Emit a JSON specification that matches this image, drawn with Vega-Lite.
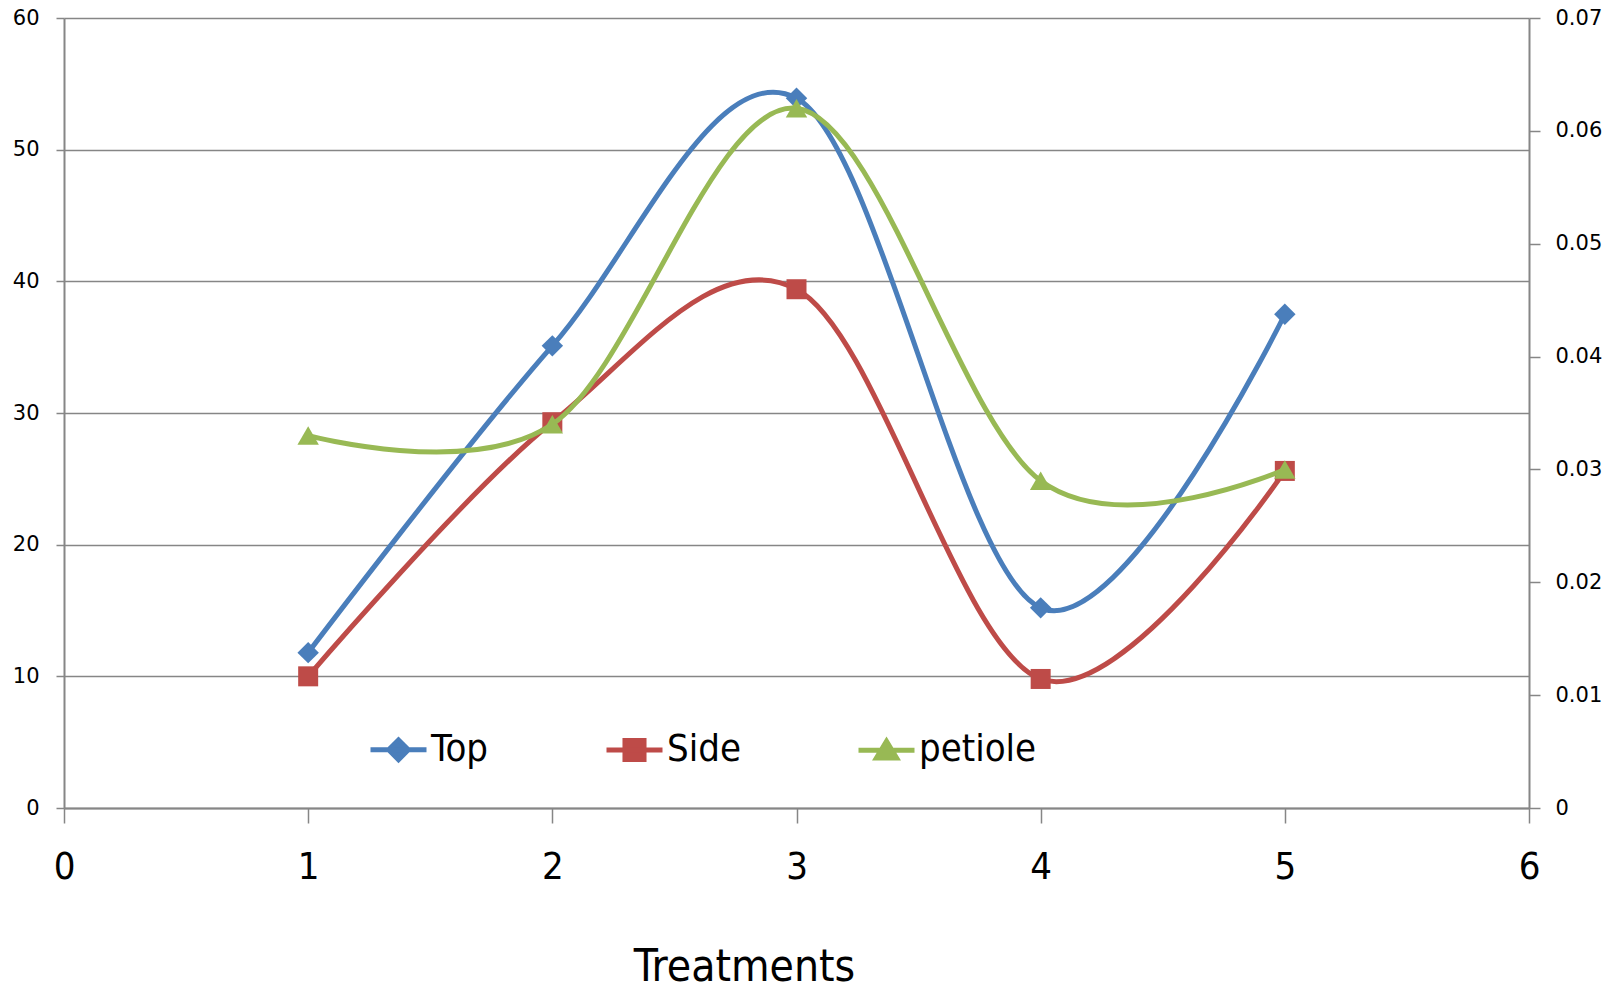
{
  "$schema": "https://vega.github.io/schema/vega-lite/v6.json",
  "width": 1465,
  "height": 790,
  "autosize": "none",
  "padding": {"left": 64, "top": 18, "right": 90, "bottom": 183},
  "background": "white",
  "config": {
    "view": {"stroke": null},
    "axis": {
      "domainColor": "#868686",
      "tickColor": "#868686",
      "gridColor": "#868686",
      "domainWidth": 2,
      "tickWidth": 1.5,
      "gridWidth": 1.5,
      "gridOpacity": 1,
      "labelColor": "black",
      "titleColor": "black"
    }
  },
  "data": {
    "values": [
      {"treatment": 1, "series": "Top", "value": 11.8},
      {"treatment": 2, "series": "Top", "value": 35.1},
      {"treatment": 3, "series": "Top", "value": 53.9},
      {"treatment": 4, "series": "Top", "value": 15.2},
      {"treatment": 5, "series": "Top", "value": 37.5},
      {"treatment": 1, "series": "Side", "value": 10.0},
      {"treatment": 2, "series": "Side", "value": 29.3},
      {"treatment": 3, "series": "Side", "value": 39.4},
      {"treatment": 4, "series": "Side", "value": 9.8},
      {"treatment": 5, "series": "Side", "value": 25.6},
      {"treatment": 1, "series": "petiole", "value": 0.033},
      {"treatment": 2, "series": "petiole", "value": 0.034},
      {"treatment": 3, "series": "petiole", "value": 0.062},
      {"treatment": 4, "series": "petiole", "value": 0.029},
      {"treatment": 5, "series": "petiole", "value": 0.030}
    ]
  },
  "encoding": {
    "x": {
      "field": "treatment",
      "type": "quantitative",
      "scale": {"domain": [0, 6], "nice": false, "zero": false},
      "axis": {
        "values": [0, 1, 2, 3, 4, 5, 6],
        "grid": false,
        "tickSize": 15,
        "labelFont": "DejaVu Sans Condensed, Liberation Sans Narrow, Lato, sans-serif",
        "labelFontSize": 38,
        "labelBaseline": "alphabetic",
        "labelPadding": 55,
        "labelFlush": false,
        "labelOverlap": false,
        "title": "Treatments",
        "titleFont": "DejaVu Sans Condensed, Liberation Sans Narrow, Lato, sans-serif",
        "titleFontSize": 44,
        "titleFontWeight": "normal",
        "titleAlign": "center",
        "titleBaseline": "alphabetic",
        "titleX": 680,
        "titleY": 172
      }
    },
    "color": {
      "field": "series",
      "type": "nominal",
      "scale": {"domain": ["Top", "Side", "petiole"], "range": ["#4A7EBB", "#BE4B48", "#98B954"]},
      "legend": {
        "orient": "none",
        "legendX": 304,
        "legendY": 701,
        "direction": "horizontal",
        "title": null,
        "labelFont": "DejaVu Sans Condensed, Liberation Sans Narrow, Lato, sans-serif",
        "labelFontSize": 38,
        "labelColor": "black",
        "labelOffset": 2,
        "symbolSize": 3136,
        "symbolStrokeWidth": 5,
        "columnPadding": 107,
        "encode": {
          "symbols": {
            "update": {
              "shape": {"signal": "datum.value == 'Top' ? 'M-1,0L1,0M0,-0.35L0.35,0L0,0.35L-0.35,0Z' : datum.value == 'Side' ? 'M-1,0L1,0M-0.34,-0.34L0.34,-0.34L0.34,0.34L-0.34,0.34Z' : 'M-1,0L1,0M0,-0.32L0.36,0.28L-0.36,0.28Z'"},
              "fill": {"signal": "scale('color', datum.value)"},
              "stroke": {"signal": "scale('color', datum.value)"},
              "strokeWidth": {"value": 5},
              "opacity": {"value": 1},
              "fillOpacity": {"value": 1},
              "strokeOpacity": {"value": 1}
            }
          }
        }
      }
    }
  },
  "layer": [
    {
      "transform": [{"filter": "datum.series != 'petiole'"}],
      "encoding": {
        "y": {
          "field": "value",
          "type": "quantitative",
          "scale": {"domain": [0, 60], "nice": false},
          "axis": {
            "orient": "left",
            "values": [0, 10, 20, 30, 40, 50, 60],
            "grid": true,
            "tickSize": 8,
            "labelPadding": 17,
            "labelFont": "DejaVu Sans",
            "labelFontSize": 21,
            "title": null
          }
        }
      },
      "layer": [
        {"mark": {"type": "line", "interpolate": "cardinal", "strokeWidth": 5, "strokeCap": "round"}},
        {
          "transform": [{"filter": "datum.series == 'Top'"}],
          "mark": {"type": "point", "filled": true, "size": 460, "opacity": 1, "shape": "diamond"}
        },
        {
          "transform": [{"filter": "datum.series == 'Side'"}],
          "mark": {"type": "point", "filled": true, "size": 400, "opacity": 1, "shape": "square"}
        }
      ]
    },
    {
      "transform": [{"filter": "datum.series == 'petiole'"}],
      "encoding": {
        "y": {
          "field": "value",
          "type": "quantitative",
          "scale": {"domain": [0, 0.07], "nice": false},
          "axis": {
            "orient": "right",
            "values": [0, 0.01, 0.02, 0.03, 0.04, 0.05, 0.06, 0.07],
            "format": ".2~f",
            "grid": false,
            "tickSize": 11,
            "labelPadding": 15,
            "labelFont": "DejaVu Sans",
            "labelFontSize": 21,
            "title": null
          }
        }
      },
      "layer": [
        {"mark": {"type": "line", "interpolate": "cardinal", "strokeWidth": 5, "strokeCap": "round"}},
        {"mark": {"type": "point", "filled": true, "size": 460, "opacity": 1, "shape": "triangle-up"}}
      ]
    }
  ],
  "resolve": {"scale": {"y": "independent"}}
}
